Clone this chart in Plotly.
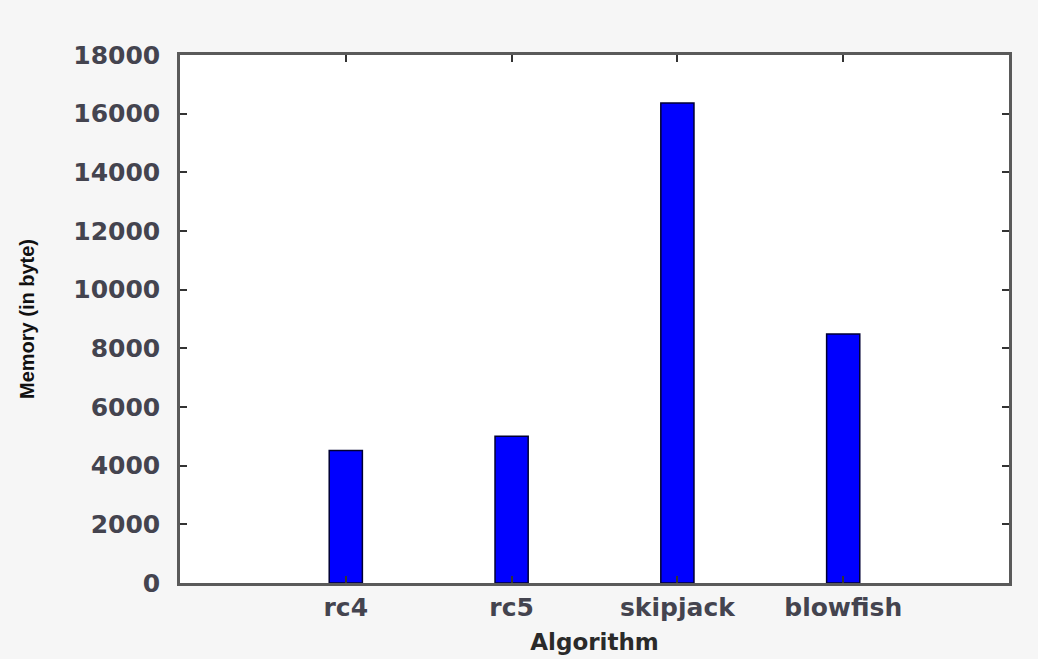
import plotly.graph_objects as go

algorithms = ["rc4", "rc5", "skipjack", "blowfish"]
memory_bytes = [4520, 5000, 16360, 8490]
y_ticks = [0, 2000, 4000, 6000, 8000, 10000, 12000, 14000, 16000, 18000]

fig = go.Figure(
    go.Bar(
        x=algorithms,
        y=memory_bytes,
        width=0.2,
        marker=dict(color="#0000ff", line=dict(color="#000033", width=1.5)),
        showlegend=False,
    )
)

axis_common = dict(
    showline=True,
    linecolor="#5a5a5a",
    linewidth=2.5,
    mirror="ticks",
    ticks="inside",
    tickcolor="#333333",
    tickwidth=2,
    ticklen=7,
    showgrid=False,
    zeroline=False,
)

tick_font = dict(family="DejaVu Sans", size=25, color="#44444f", weight="bold")

fig.update_layout(
    width=1038,
    height=659,
    paper_bgcolor="#f6f6f6",
    plot_bgcolor="#ffffff",
    margin=dict(l=180, r=29, t=55, b=76),
    font=dict(family="DejaVu Sans, Liberation Sans, sans-serif", color="#333333"),
    bargap=0.8,
)

fig.update_xaxes(
    **axis_common,
    type="category",
    range=[-1, 4],
    automargin=False,
    tickfont=tick_font,
    ticklabelstandoff=0,
    title=dict(
        text="<b>Algorithm</b>",
        font=dict(family="DejaVu Sans", size=23, color="#2a2a2a"),
        standoff=14,
    ),
)

fig.update_yaxes(
    **axis_common,
    range=[0, 18000],
    automargin=False,
    tickvals=y_ticks,
    ticktext=[str(v) for v in y_ticks],
    tickfont=tick_font,
    ticklabelstandoff=12,
    title=dict(
        text="<b>Memory (in byte)</b>",
        font=dict(family="Liberation Sans", size=20, color="#111111"),
        standoff=34,
    ),
)

fig.write_html(
    "out.html",
    config={"displayModeBar": False},
    post_script="document.body.style.margin='0';document.body.style.background='#f6f6f6';",
)
